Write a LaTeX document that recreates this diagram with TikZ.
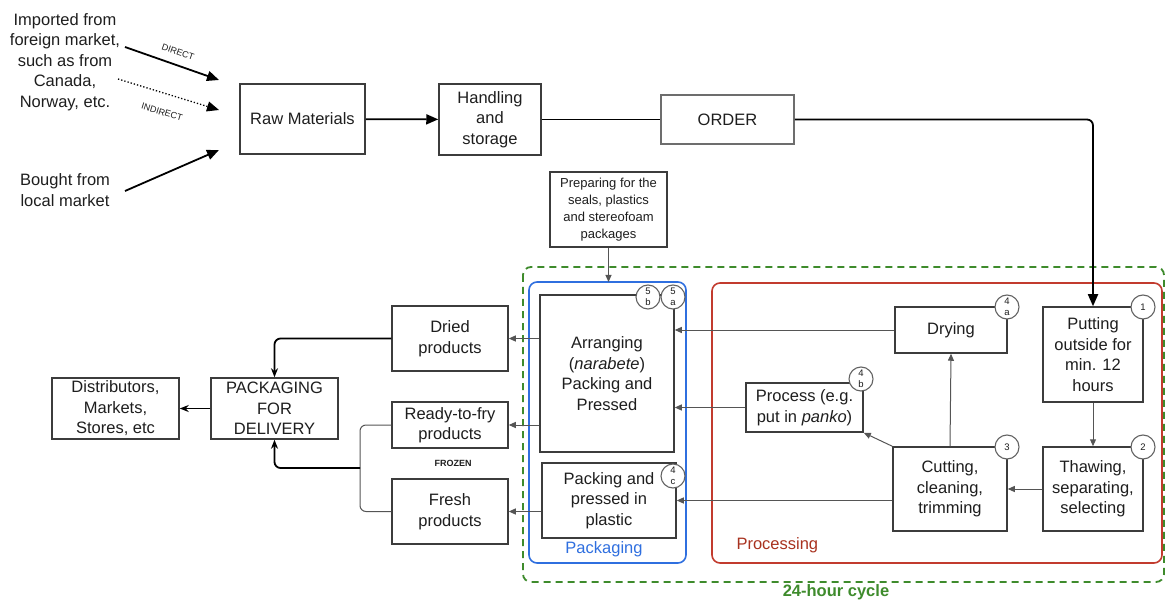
\documentclass[tikz,border=0pt]{standalone}
\usepackage{fontspec}
\setmainfont{Liberation Sans}
\usetikzlibrary{arrows.meta}
\definecolor{boxline}{HTML}{3C3C3C}
\definecolor{linkgray}{HTML}{555555}
\definecolor{cyclegreen}{HTML}{3E8B2C}
\definecolor{procred}{HTML}{C23B2E}
\definecolor{proctext}{HTML}{A8321F}
\definecolor{packblue}{HTML}{2F6FDF}
\definecolor{txt}{HTML}{1E1E1E}
\tikzset{
  every node/.style={text=txt},
  stepbox/.style={draw=boxline, line width=1.5pt, fill=white, inner sep=0pt,
    align=center, font={\fontsize{16.5}{20.5}\selectfont}},
  smallbox/.style={draw=boxline, line width=1.3pt, fill=white, inner sep=0pt,
    align=center, font={\fontsize{13}{17}\selectfont}},
  plain/.style={align=center, inner sep=0pt, font={\fontsize{16.5}{20.5}\selectfont}},
  tag/.style={circle, draw=boxline!80, line width=1.1pt, fill=white,
    minimum size=24pt, inner sep=0pt, align=center,
    font={\fontsize{9.5}{10.5}\selectfont}},
  bigarrow/.style={draw=black, line width=1.8pt, -{Triangle[length=12pt,width=10pt]}},
  mainlink/.style={draw=black, line width=1.8pt, rounded corners=6pt},
  thinlink/.style={draw=linkgray, line width=1pt, -{Triangle[length=7pt,width=6pt]}},
  tinylabel/.style={inner sep=0pt, font={\fontsize{9}{9}\selectfont}},
}
\begin{document}
\begin{tikzpicture}[x=1pt,y=-1pt]
\useasboundingbox (0,0) rectangle (1166,601);

% stage frames
\draw[cyclegreen, line width=1.8pt, dash pattern=on 7pt off 5pt, rounded corners=8pt]
  (523,267) rectangle (1164,582);
\draw[procred, line width=1.6pt, rounded corners=8pt] (712,283) rectangle (1162,563);
\draw[packblue, line width=1.6pt, rounded corners=8pt] (529,282) rectangle (686,563);
\node[font={\fontsize{16.5}{20}\selectfont}, text=proctext, anchor=west] (proclbl) at (733,545) {Processing};
\node[font={\fontsize{16.5}{20}\selectfont}, text=packblue] (packlbl) at (604,549) {Packaging};
\node[font={\bfseries\fontsize{16.5}{20}\selectfont}, text=cyclegreen] (cyclelbl) at (836,592) {24-hour cycle};

% sources
\node[plain] (imported) at (65,62) {Imported from\\foreign market,\\such as from\\Canada,\\Norway, etc.};
\node[plain] (bought) at (65,190) {Bought from\\local market};
\coordinate (dirA) at (125,47);
\coordinate (dirB) at (219,80);
\coordinate (indA) at (118,79);
\coordinate (indB) at (219,110);
\coordinate (locA) at (125,191);
\coordinate (locB) at (219,150);
\draw[bigarrow] (dirA) -- (dirB);
\draw[black, line width=1.3pt, dotted, -{Triangle[length=12pt,width=10pt]}] (indA) -- (indB);
\draw[bigarrow] (locA) -- (locB);
\node[tinylabel, rotate=-19.5] (direct) at (178,52) {DIRECT};
\node[tinylabel, rotate=-17] (indirect) at (162,112) {INDIRECT};

% upper chain
\node[stepbox, minimum width=125pt, minimum height=70pt] (raw) at (302.5,119) {Raw Materials};
\node[stepbox, minimum width=102pt, minimum height=71pt] (handling) at (490,119.5) {Handling\\and\\storage};
\node[stepbox, draw=boxline!75, minimum width=133pt, minimum height=49pt] (order) at (727.5,119.5) {ORDER};
\draw[bigarrow] (raw) -- (handling);
\draw[black, line width=1.8pt] (handling) -- (order);

% processing steps
\node[stepbox, minimum width=112pt, minimum height=46pt] (drying) at (951,330) {Drying};
\node[stepbox, minimum width=100pt, minimum height=95pt] (putting) at (1093,354.5) {Putting\\outside for\\min. 12\\hours};
\node[stepbox, minimum width=117pt, minimum height=49pt] (process) at (804.5,407.5) {Process (e.g.\\put in \textit{panko})};
\node[stepbox, minimum width=114pt, minimum height=84pt] (cutting) at (950,489) {Cutting,\\cleaning,\\trimming};
\node[stepbox, minimum width=100pt, minimum height=84pt] (thawing) at (1093,489) {Thawing,\\separating,\\selecting};

% packaging steps
\node[smallbox, minimum width=117pt, minimum height=75pt] (prep) at (608.5,209.5) {Preparing for the\\seals, plastics\\and stereofoam\\packages};
\node[stepbox, minimum width=134pt, minimum height=157pt] (arrange) at (607,373.5) {Arranging\\(\textit{narabete})\\Packing and\\Pressed};
\node[stepbox, minimum width=134pt, minimum height=75pt] (plastic) at (609,500.5) {Packing and\\pressed in\\plastic};

% products and delivery
\node[stepbox, minimum width=116pt, minimum height=65pt] (dried) at (450,338.5) {Dried\\products};
\node[stepbox, minimum width=116pt, minimum height=46pt] (ready) at (450,425) {Ready-to-fry\\products};
\node[stepbox, minimum width=116pt, minimum height=65pt] (fresh) at (450,511.5) {Fresh\\products};
\node[font={\bfseries\fontsize{9}{9}\selectfont}] (frozen) at (453,463) {FROZEN};
\node[stepbox, minimum width=127pt, minimum height=61pt] (delivery) at (274.5,408.5) {PACKAGING\\FOR\\DELIVERY};
\node[stepbox, minimum width=127pt, minimum height=61pt] (dist) at (115.5,408.5) {Distributors,\\Markets,\\Stores, etc};

% step tags
\node[tag] (t5b) at (648,297) {5\\b};
\node[tag] (t5a) at (673,297) {5\\a};
\node[tag] (t4c) at (673,476) {4\\c};
\node[tag] (t4a) at (1007,307) {4\\a};
\node[tag] (t1) at (1143,307) {1};
\node[tag] (t4b) at (861,379) {4\\b};
\node[tag] (t3) at (1007,447) {3};
\node[tag] (t2) at (1143,447) {2};

% order into processing
\draw[mainlink, -{Triangle[length=12pt,width=10pt]}] (order.east) -- (order.east -| putting.north) -- (putting.north);

% processing flow
\draw[thinlink] (putting) -- (thawing);
\draw[thinlink] (thawing.west) -- (cutting.east);
\draw[thinlink] (cutting.north) -- (drying.south);
\draw[thinlink] (cutting.north west) -- (process.south east);
\draw[thinlink] (drying.west) -- (arrange.east |- drying.west);
\draw[thinlink] (process.west) -- (arrange.east |- process.west);
\draw[thinlink] (cutting.west |- plastic.east) -- (plastic.east);
\draw[thinlink] (prep.south) -- (prep.south |- 0,282);

% packaging to products
\draw[thinlink] (arrange.west |- dried.east) -- (dried.east);
\draw[thinlink] (arrange.west |- ready.east) -- (ready.east);
\draw[thinlink] (plastic.west |- fresh.east) -- (fresh.east);

% products to delivery
\coordinate (brk) at (360,468);
\draw[linkgray, line width=1pt, rounded corners=6pt] (ready.west) -| (brk) |- (fresh.west);
\draw[mainlink, -{Stealth[length=9pt,width=7pt]}] (dried.west) -| (delivery.north);
\draw[mainlink, -{Stealth[length=9pt,width=7pt]}] (brk) -| (delivery.south);
\draw[black, line width=1.8pt, -{Stealth[length=9pt,width=7pt]}] (delivery) -- (dist);
\end{tikzpicture}
\end{document}
